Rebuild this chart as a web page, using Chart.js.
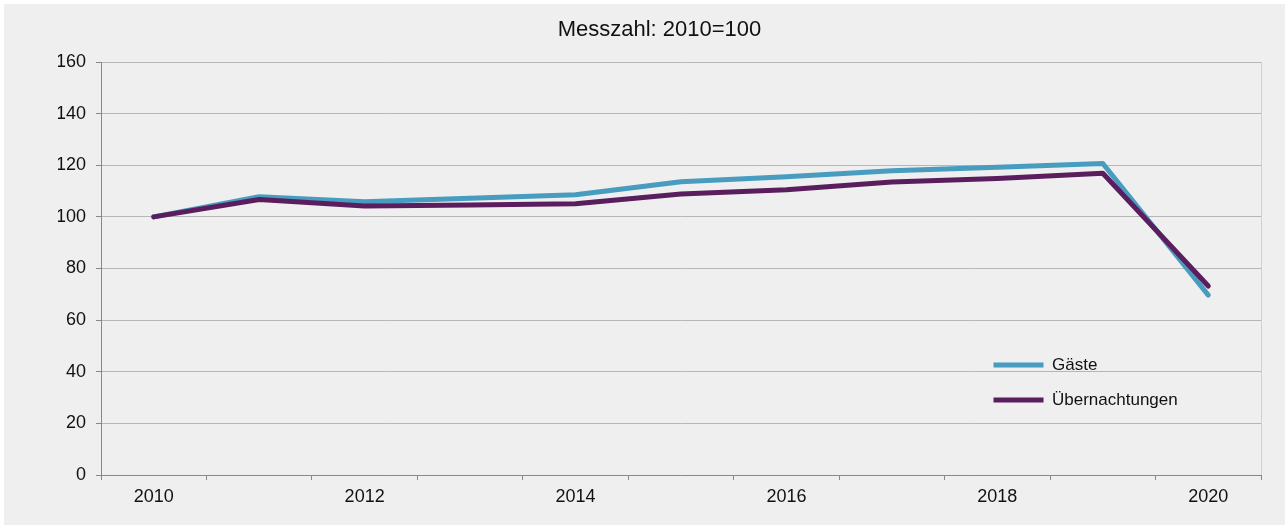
<!DOCTYPE html>
<html>
<head>
<meta charset="utf-8">
<script src="https://cdn.jsdelivr.net/npm/chart.js@4/dist/chart.umd.min.js"></script>
<style>
  body { margin: 0; background: #ffffff; }
  #panel { position: absolute; left: 4px; top: 4px; width: 1281px; height: 521px; background: #eeefee; }
</style>
</head>
<body>
<div id="panel"><canvas id="lineChart" width="1281" height="521"></canvas></div>
<script>
// Messzahl 2010 = 100
const years = ["2010", "2011", "2012", "2013", "2014", "2015", "2016", "2017", "2018", "2019", "2020"];
const gaeste = [100, 107.8, 105.9, 107.2, 108.6, 113.6, 115.5, 117.9, 119.2, 120.7, 69.7];
const uebernachtungen = [100, 106.7, 104.2, 104.6, 105.1, 108.9, 110.5, 113.5, 114.9, 116.9, 73.2];
const titleText = "Messzahl: 2010=100";
const seriesNames = ["Gäste", "Übernachtungen"];

let chartPage = {

  onload: function () {

    // legend sits inside the plot, lower right
    let legendPlacer = {
      id: 'legendPlacer',
      afterLayout: function (chart) {
        let lg = chart.legend;
        lg.left = 971.5;
        lg.top = 334.5;
        lg.right = 1250;
        lg.bottom = 460;
        lg.width = lg.right - lg.left;
        lg.height = lg.bottom - lg.top;
      }
    };

    let chartData = {
      labels: years,
      datasets: [{
        label: seriesNames[0],
        data: gaeste,
        borderColor: '#479cbf',
        backgroundColor: '#479cbf',
        borderWidth: 5,
        borderCapStyle: 'round',
        borderJoinStyle: 'round',
        pointRadius: 0,
        tension: 0,
        order: 1
      }, {
        label: seriesNames[1],
        data: uebernachtungen,
        borderColor: '#5a1e5e',
        backgroundColor: '#5a1e5e',
        borderWidth: 5,
        borderCapStyle: 'round',
        borderJoinStyle: 'round',
        pointRadius: 0,
        tension: 0,
        order: 0
      }]
    };

    let chartOptions = {
      responsive: false,
      animation: false,
      // left padding shifts the title centre like the original
      layout: { padding: { left: 54, right: 24, top: 0, bottom: 0 } },
      plugins: {
        title: {
          display: true,
          text: titleText,
          color: '#111111',
          font: { family: "'Liberation Sans', Arial, sans-serif", size: 22, weight: 'normal' },
          padding: { top: 13, bottom: 18.6 }
        },
        legend: {
          position: 'chartArea',
          align: 'start',
          labels: {
            usePointStyle: true,
            pointStyle: 'line',
            pointStyleWidth: 50,
            padding: 18,
            color: '#111111',
            font: { family: "'Liberation Sans', Arial, sans-serif", size: 17 },
            sort: (a, b) => a.datasetIndex - b.datasetIndex
          }
        },
        tooltip: { enabled: false }
      },
      scales: {
        x: {
          offset: true,
          grid: {
            offset: true,
            drawOnChartArea: true,
            color: ctx => ctx.type === 'scale' ? '#d0d0d0' : 'rgba(0,0,0,0)',
            tickColor: '#888888',
            tickLength: 5
          },
          border: { color: '#888888', width: 1 },
          ticks: {
            autoSkip: false,
            maxRotation: 0,
            padding: 6,
            color: '#111111',
            font: { family: "'Liberation Sans', Arial, sans-serif", size: 18 },
            callback: (value, index) => index % 2 === 0 ? years[index] : ''
          },
          afterFit: scale => { scale.height = 50; }
        },
        y: {
          min: 0,
          max: 160,
          grid: { color: '#b6b6b6', tickColor: '#888888', tickLength: 5 },
          border: { color: '#888888', width: 1 },
          ticks: {
            stepSize: 20,
            padding: 10,
            color: '#111111',
            font: { family: "'Liberation Sans', Arial, sans-serif", size: 18 }
          },
          afterFit: scale => { scale.width = 43; }
        }
      }
    };

    let ctx = document.getElementById('lineChart').getContext('2d');
    let lineChart = new Chart(ctx, {
      type: 'line',
      data: chartData,
      options: chartOptions,
      plugins: [legendPlacer]
    });
  }
}

chartPage.onload();
</script>
</body>
</html>
